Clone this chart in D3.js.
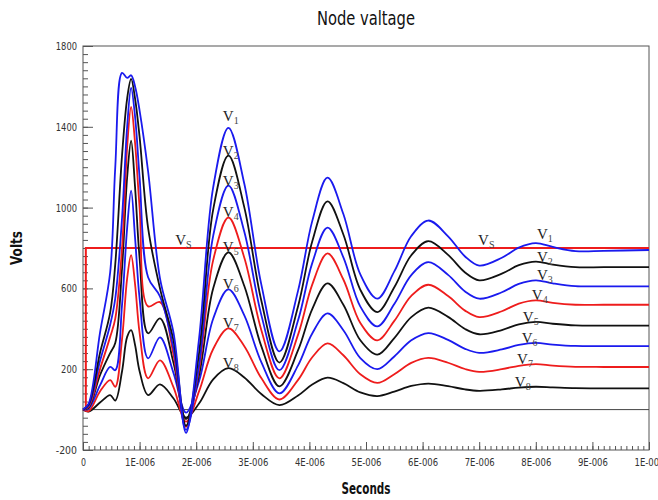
<!DOCTYPE html>
<html>
<head>
<meta charset="utf-8">
<script src="https://cdn.jsdelivr.net/npm/d3@7"></script>
<style>
  body { margin: 0; background: #fff; }
</style>
</head>
<body>
<div id="viz"><svg></svg></div>
<script>
const fullWidth = 658;
const fullHeight = 500;

const margin = { top: 46, right: 9, bottom: 50, left: 83 },
  width = fullWidth - margin.left - margin.right,
  height = fullHeight - margin.top - margin.bottom;

// time in microseconds
const timeUs = [0, 0.1, 0.3, 0.48, 0.57, 0.69, 0.78, 0.85, 0.92, 1.0, 1.15, 1.36, 1.6, 1.82, 2.05, 2.3, 2.57, 2.85, 3.15, 3.47,
  3.8, 4.05, 4.32, 4.6, 4.9, 5.2, 5.5, 5.8, 6.1, 6.45, 6.75, 7.0, 7.4, 7.7, 8.0, 8.3, 8.7, 9.2, 10];

const v1 = [0, 30, 380, 680, 1200, 1667, 1642, 1655, 1600, 1480, 1180, 650, 380, -115, 350, 1100, 1395, 1118, 620, 288,
  589, 933, 1148, 968, 669, 549, 684, 859, 936, 858, 758, 713, 752, 802, 824, 805, 785, 786, 790];
const v2 = [0, 25, 280, 480, 720, 1260, 1540, 1637, 1540, 1350, 900, 600, 340, -80, 280, 990, 1257, 1001, 540, 233,
  512, 832, 1031, 867, 593, 483, 606, 764, 834, 766, 679, 640, 673, 715, 733, 718, 705, 705, 705];
const v3 = [0, 20, 240, 420, 550, 950, 1400, 1593, 1450, 1150, 655, 560, 300, -100, 220, 860, 1109, 880, 469, 195,
  442, 725, 901, 754, 510, 412, 523, 666, 730, 667, 585, 549, 581, 622, 640, 625, 611, 610, 610];
const v4 = [0, 15, 200, 360, 450, 800, 1300, 1499, 1320, 1000, 511, 532, 270, -86, 200, 740, 951, 752, 394, 155,
  371, 619, 773, 644, 429, 343, 439, 563, 618, 562, 490, 458, 487, 525, 541, 528, 519, 519, 519];
const v5 = [0, 10, 170, 280, 330, 700, 1150, 1331, 1100, 750, 378, 452, 230, -47, 170, 600, 778, 612, 314, 115,
  294, 498, 625, 519, 343, 272, 354, 458, 505, 459, 399, 373, 394, 422, 434, 425, 417, 416, 416];
const v6 = [0, 5, 120, 211, 195, 520, 900, 1084, 850, 550, 254, 358, 180, -15, 140, 450, 595, 466, 235, 80,
  219, 377, 476, 393, 255, 200, 263, 343, 379, 345, 301, 281, 298, 320, 330, 322, 315, 314, 314];
const v7 = [0, -8, 90, 146, 113, 350, 650, 765, 620, 380, 155, 244, 110, -60, 90, 300, 402, 314, 156, 50,
  147, 259, 328, 269, 175, 132, 175, 231, 256, 232, 201, 187, 200, 217, 225, 218, 212, 211, 211];
const v8 = [0, -10, 35, 72, 45, 190, 360, 393, 320, 190, 72, 125, 55, -40, 30, 150, 205, 159, 77, 22,
  70, 124, 158, 131, 85, 67, 89, 117, 129, 116, 100, 93, 100, 109, 113, 110, 106, 105, 105];

const seriesNames = ['1', '2', '3', '4', '5', '6', '7', '8'];
const seriesValues = [v1, v2, v3, v4, v5, v6, v7, v8];

// source voltage step
const vsTimeUs = [0.05, 0.05, 10];
const vsValues = [0, 800, 800];

const yTicks = [-200, 200, 600, 1000, 1400, 1800];
const xTicks = [0, 1, 2, 3, 4, 5, 6, 7, 8, 9, 10];
const xTickLabels = ['0', '1E-006', '2E-006', '3E-006', '4E-006', '5E-006', '6E-006', '7E-006', '8E-006', '9E-006', '1E-005'];

const colors = ['#1a1aee', '#111111', '#1a1aee', '#ee1c1c', '#111111', '#1a1aee', '#ee1c1c', '#111111'];

const narrow = "'Liberation Sans Narrow', 'DejaVu Sans Condensed', 'Arial Narrow', sans-serif";

const svg = d3.select('#viz svg')
  .attr('width', fullWidth)
  .attr('height', fullHeight);

const x = d3.scaleLinear().domain([0, 10]).range([0, width]);
const y = d3.scaleLinear().domain([-200, 1800]).range([height, 0]);

const g = svg.append('g')
  .attr('transform', `translate(${margin.left},${margin.top})`);

// minor ticks
g.append('g')
  .call(d3.axisLeft(y).tickValues(d3.range(-200, 1801, 40)).tickSize(-5).tickFormat(''))
  .call(a => a.select('.domain').remove())
  .selectAll('line').attr('stroke', '#555');

g.append('g')
  .attr('transform', `translate(0,${height})`)
  .call(d3.axisBottom(x).tickValues(d3.range(0, 101).map(i => i / 10)).tickSize(-4).tickFormat(''))
  .call(a => a.select('.domain').remove())
  .selectAll('line').attr('stroke', '#555');

// squeeze tick text to the narrow look of the original
function narrowText(sel, perChar) {
  sel.attr('font-family', narrow)
    .attr('font-size', 11)
    .attr('fill', '#333')
    .attr('lengthAdjust', 'spacingAndGlyphs')
    .attr('textLength', function () { return this.textContent.length * perChar; });
}

// major ticks + labels
const yAxis = g.append('g')
  .call(d3.axisLeft(y).tickValues(yTicks).tickSize(-10).tickPadding(6).tickFormat(d => String(d)))
  .call(a => a.select('.domain').remove());
yAxis.selectAll('line').attr('stroke', '#555');
yAxis.selectAll('text').call(narrowText, 5.3);

const xAxis = g.append('g')
  .attr('transform', `translate(0,${height})`)
  .call(d3.axisBottom(x).tickValues(xTicks).tickSize(-8).tickPadding(8).tickFormat((d, i) => xTickLabels[i]))
  .call(a => a.select('.domain').remove());
xAxis.selectAll('line').attr('stroke', '#555');
xAxis.selectAll('text').call(narrowText, 5.0);

// frame
g.append('rect')
  .attr('width', width)
  .attr('height', height)
  .attr('fill', 'none')
  .attr('stroke', '#555');

// zero line
g.append('line')
  .attr('x1', x(0)).attr('x2', x(10))
  .attr('y1', y(0)).attr('y2', y(0))
  .attr('stroke', '#444');

const line = d3.line()
  .x(d => x(d[0]))
  .y(d => y(d[1]))
  .curve(d3.curveCatmullRom.alpha(0.5));

// Vs
g.append('path')
  .attr('d', d3.line().x(d => x(d[0])).y(d => y(d[1]))(vsTimeUs.map((t, i) => [t, vsValues[i]])))
  .attr('fill', 'none')
  .attr('stroke', '#ee1c1c')
  .attr('stroke-width', 2);

// node voltages, drawn lowest first
for (let i = seriesValues.length - 1; i >= 0; i--) {
  g.append('path')
    .attr('d', line(timeUs.map((t, j) => [t, seriesValues[i][j]])))
    .attr('fill', 'none')
    .attr('stroke', colors[i])
    .attr('stroke-width', 1.8);
}

// V labels
function vLabel(px, py, sub) {
  const t = g.append('text')
    .attr('x', px)
    .attr('y', py)
    .attr('font-family', "'Liberation Serif', 'DejaVu Serif', serif")
    .attr('font-size', 15)
    .attr('fill', '#222');
  t.append('tspan').text('V');
  t.append('tspan').attr('font-size', 10).attr('dy', 3).attr('fill', '#444').text(sub);
}

const peakA = timeUs.indexOf(2.57);
const peakB = timeUs.indexOf(8.0);
const labelTimeB = [8.02, 8.02, 8.02, 7.93, 7.77, 7.75, 7.67, 7.63];
seriesValues.forEach((vals, i) => {
  vLabel(x(2.47), y(vals[peakA]) - (i === 0 ? 7 : 0), seriesNames[i]);
  vLabel(x(labelTimeB[i]), y(vals[peakB]) - (i === 0 ? 4 : 0), seriesNames[i]);
});
vLabel(x(1.63), y(800) - 3, 'S');
vLabel(x(6.98), y(800) - 3, 'S');

// titles
svg.append('text')
  .attr('x', margin.left + width / 2)
  .attr('y', 25)
  .attr('text-anchor', 'middle')
  .attr('font-family', narrow)
  .attr('font-size', 19)
  .attr('fill', '#111')
  .attr('lengthAdjust', 'spacingAndGlyphs')
  .attr('textLength', 98)
  .text('Node valtage');

svg.append('text')
  .attr('transform', `translate(22,${margin.top + height / 2}) rotate(-90)`)
  .attr('text-anchor', 'middle')
  .attr('font-family', narrow)
  .attr('font-weight', 'bold')
  .attr('font-size', 15)
  .attr('fill', '#111')
  .attr('lengthAdjust', 'spacingAndGlyphs')
  .attr('textLength', 34)
  .text('Volts');

svg.append('text')
  .attr('x', margin.left + width / 2)
  .attr('y', 494)
  .attr('text-anchor', 'middle')
  .attr('font-family', narrow)
  .attr('font-weight', 'bold')
  .attr('font-size', 15)
  .attr('fill', '#111')
  .attr('lengthAdjust', 'spacingAndGlyphs')
  .attr('textLength', 49)
  .text('Seconds');
</script>
</body>
</html>
